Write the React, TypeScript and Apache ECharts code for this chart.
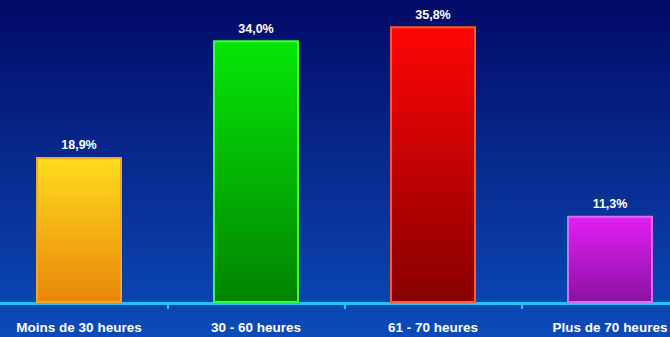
import React, { useEffect, useRef } from "react";
import * as echarts from "echarts";

const categories = ["Moins de 30 heures", "30 - 60 heures", "61 - 70 heures", "Plus de 70 heures"];
const values = [18.9, 34.0, 35.8, 11.3];
const topColors = ["#ffdc1e", "#06e606", "#ff0505", "#e41ef4"];
const bottomColors = ["#e8860a", "#008400", "#860000", "#8a12a2"];
const borderColors = ["#f4a62a", "#3cff3c", "#ff5a2a", "#d070f0"];

const FONT = "'Liberation Sans', Arial, sans-serif";

export default function App() {
  const ref = useRef<HTMLDivElement>(null);
  useEffect(() => {
    const chart = echarts.init(ref.current!, null, { renderer: "svg" });
    chart.setOption({
      animation: false,
      backgroundColor: new echarts.graphic.LinearGradient(0, 0, 0, 1, [
        { offset: 0, color: "#020a66" },
        { offset: 1, color: "#0b4cb8" },
      ]),
      grid: { left: 0.5, width: 708, top: 9.3, height: 293.7 },
      xAxis: {
        type: "category",
        data: categories,
        axisLine: { show: true, lineStyle: { color: "#22c4f2", width: 3 } },
        axisTick: { show: true, interval: 0, alignWithLabel: false, length: 6, lineStyle: { color: "#22c4f2", width: 2 } },
        axisLabel: {
          interval: 0,
          color: "#ffffff",
          fontFamily: FONT,
          fontWeight: "bold",
          fontSize: 13.5,
          margin: 17,
        },
      },
      yAxis: {
        type: "value",
        min: 0,
        max: 38,
        show: false,
        splitLine: { show: false },
      },
      series: [
        {
          type: "bar",
          barWidth: 86,
          data: values.map((v, i) => ({
            value: v,
            itemStyle: {
              color: new echarts.graphic.LinearGradient(0, 0, 0, 1, [
                { offset: 0, color: topColors[i] },
                { offset: 1, color: bottomColors[i] },
              ]),
              borderColor: borderColors[i],
              borderWidth: 2,
            },
          })),
          label: {
            show: true,
            position: "top",
            distance: 5,
            color: "#ffffff",
            fontFamily: FONT,
            fontWeight: "bold",
            fontSize: 12.5,
            formatter: (p: any) => p.value.toFixed(1).replace(".", ",") + "%",
          },
        },
      ],
    });
    return () => chart.dispose();
  }, []);
  return <div ref={ref} style={{ width: 710, height: 337, position: "fixed", left: -10, top: 0 }} />;
}
